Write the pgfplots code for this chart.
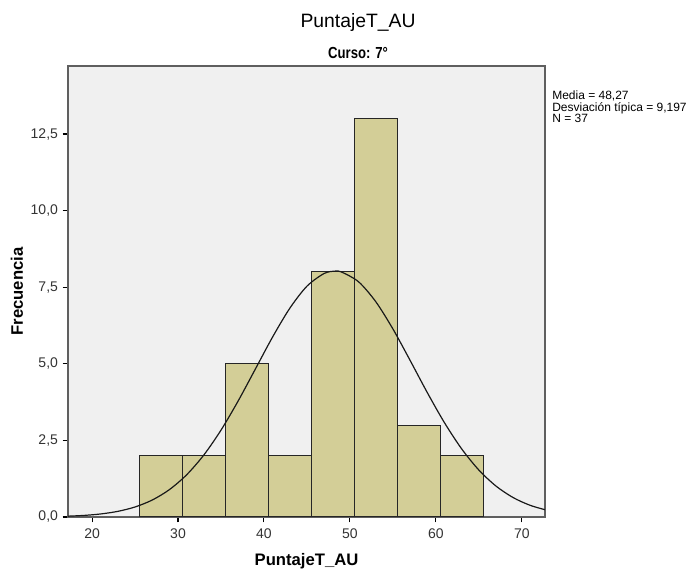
\documentclass[border=0pt]{standalone}
\usepackage{pgfplots}
\pgfplotsset{compat=1.18}
\usepackage{fontspec}
\setmainfont{Liberation Sans}
\newfontfamily\narrowfont[FakeStretch=0.82]{Liberation Sans}
\definecolor{barfill}{RGB}{211,206,151}
\definecolor{bgc}{RGB}{240,240,240}
\definecolor{framec}{RGB}{95,95,95}
\begin{document}
\begin{tikzpicture}
\begin{axis}[
    at={(0,0)}, anchor=south west,
    scale only axis,
    width=357.75pt, height=338.25pt,
    xmin=17.2, xmax=72.7,
    ymin=0, ymax=14.72,
    axis background/.style={fill=bgc},
    axis line style={framec, line width=0.8pt},
    xtick={20,30,40,50,60,70},
    ytick={0,2.5,5,7.5,10,12.5},
    tick align=outside,
    xtick pos=bottom, ytick pos=left,
    major tick length=4pt,
    tick style={black, line width=0.8pt},
    yticklabel style={/pgf/number format/.cd, fixed, fixed zerofill, precision=1, use comma},
    xticklabel style={yshift=-1.5pt},
    /pgf/number format/assume math mode=true,
    ticklabel style={font=\fontsize{10.5}{12}\selectfont, text=black!80},
    clip=true,
]
% histograma
\addplot[ybar interval, fill=barfill, draw=black!85, line width=0.75pt]
    coordinates {
    (25.5,2) (30.5,2) (35.5,5) (40.5,2) (45.5,8) (50.5,13) (55.5,3) (60.5,2) (65.5,2)
    };
% curva normal (media 48,27, desv. 9,197, N=37)
\addplot[smooth, black!90, line width=0.9pt]
    coordinates {
    (17,0.0248) (19,0.0507) (21,0.0989) (23,0.1842) (25,0.3268) (27,0.5535)
    (29,0.8934) (31,1.376) (33,2.022) (35,2.834) (37,3.788) (39,4.829)
    (41,5.872) (43,6.810) (45,7.533) (47,7.948) (48.27,8.025) (49,7.999)
    (51,7.679) (53,7.031) (55,6.140) (57,5.114) (59,4.063) (61,3.079)
    (63,2.225) (65,1.534) (67,1.009) (69,0.6327) (71,0.3785) (73,0.2160)
    };
\end{axis}
% títulos y etiquetas
\node[font=\fontsize{14.5}{16}\selectfont] at (217.5pt,371pt) {PuntajeT\_AU};
\node[font=\narrowfont\bfseries\fontsize{12}{14}\selectfont] at (217.5pt,348pt) {Curso: 7°};
\node[font=\bfseries\fontsize{12.5}{14}\selectfont] at (178.9pt,-33pt) {PuntajeT\_AU};
\node[font=\bfseries\fontsize{12.5}{14}\selectfont, rotate=90] at (-38.25pt,169.1pt) {Frecuencia};
\node[font=\fontsize{9}{8.4}\selectfont, anchor=north west, align=left, inner sep=0pt]
    at (363pt,319.5pt) {Media = 48,27\\Desviación típica = 9,197\\N = 37};
\pgfresetboundingbox
\path (-51pt,-40.5pt) rectangle (471.75pt,387.75pt);
\end{tikzpicture}
\end{document}
